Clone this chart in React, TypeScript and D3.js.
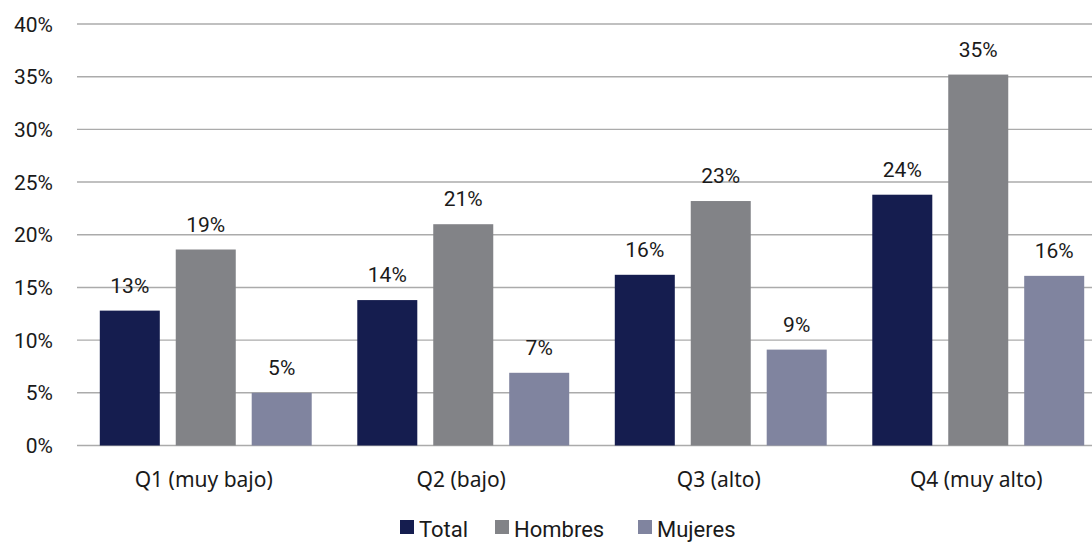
import React from "react";
import * as d3 from "d3";

// Quintile categories and the share per series (%)
const categories = ["Q1 (muy bajo)", "Q2 (bajo)", "Q3 (alto)", "Q4 (muy alto)"];
const seriesNames = ["Total", "Hombres", "Mujeres"];
const totalValues = [12.8, 13.8, 16.2, 23.8];
const hombresValues = [18.6, 21.0, 23.2, 35.2];
const mujeresValues = [5.0, 6.9, 9.1, 16.1];
const valueLabels = [
  ["13%", "14%", "16%", "24%"],
  ["19%", "21%", "23%", "35%"],
  ["5%", "7%", "9%", "16%"],
];
const yTicks = [0, 5, 10, 15, 20, 25, 30, 35, 40];

const WIDTH = 1092;
const HEIGHT = 542;
const colors = ["#151d4f", "#828387", "#80849f"];
const FONT = "Roboto, 'DejaVu Sans', sans-serif";
const CAT_FONT = "'Noto Sans', 'Open Sans', sans-serif";

export default function App() {
  const seriesValues = [totalValues, hombresValues, mujeresValues];
  const plotLeft = 77;
  const plotRight = 1107; // plot runs past the visible edge
  const y = d3.scaleLinear().domain([0, 40]).range([445.5, 24]);
  const x0 = d3.scaleBand<string>().domain(categories).range([plotLeft, plotRight]).padding(0);
  const x1 = d3
    .scaleBand<string>()
    .domain(seriesNames)
    .range([0, x0.bandwidth()])
    .paddingInner(0.21)
    .paddingOuter(0.3);

  const legendX = [400, 495, 638];

  return (
    <svg
      width={WIDTH}
      height={HEIGHT}
      style={{ position: "absolute", left: 0, top: 0, background: "#fff" }}
    >
      {/* horizontal gridlines */}
      {yTicks.map((t) => (
        <line
          key={"g" + t}
          x1={plotLeft}
          x2={WIDTH}
          y1={y(t)}
          y2={y(t)}
          stroke="#ababab"
          strokeWidth={1.4}
        />
      ))}
      {/* y tick labels */}
      {yTicks.map((t) => (
        <text
          key={"t" + t}
          x={53}
          y={y(t)}
          dy="0.36em"
          textAnchor="end"
          fontFamily={FONT}
          fontSize={21}
          fill="#1a1a1a"
        >
          {t}%
        </text>
      ))}
      {/* bars and value labels */}
      {categories.map((c, ci) => (
        <g key={c} transform={`translate(${x0(c)},0)`}>
          {seriesNames.map((s, si) => {
            const v = seriesValues[si][ci];
            const bx = x1(s) as number;
            return (
              <g key={s}>
                <rect
                  x={bx}
                  y={y(v)}
                  width={x1.bandwidth()}
                  height={y(0) - y(v)}
                  fill={colors[si]}
                />
                <text
                  x={bx + x1.bandwidth() / 2}
                  y={y(v) - 18}
                  textAnchor="middle"
                  fontFamily={FONT}
                  fontSize={21}
                  fill="#1a1a1a"
                >
                  {valueLabels[si][ci]}
                </text>
              </g>
            );
          })}
          <text
            x={(x1("Total") as number) + ((x1("Mujeres") as number) + x1.bandwidth() - (x1("Total") as number)) / 2 - 2}
            y={487}
            textAnchor="middle"
            fontFamily={CAT_FONT}
            fontSize={21}
            fill="#1a1a1a"
          >
            {c}
          </text>
        </g>
      ))}
      {/* legend */}
      {seriesNames.map((s, si) => (
        <g key={"l" + s} transform={`translate(${legendX[si]},0)`}>
          <rect x={0} y={520} width={14} height={14} fill={colors[si]} />
          <text x={19} y={537} fontFamily={FONT} fontSize={22} fill="#1a1a1a">
            {s}
          </text>
        </g>
      ))}
    </svg>
  );
}
